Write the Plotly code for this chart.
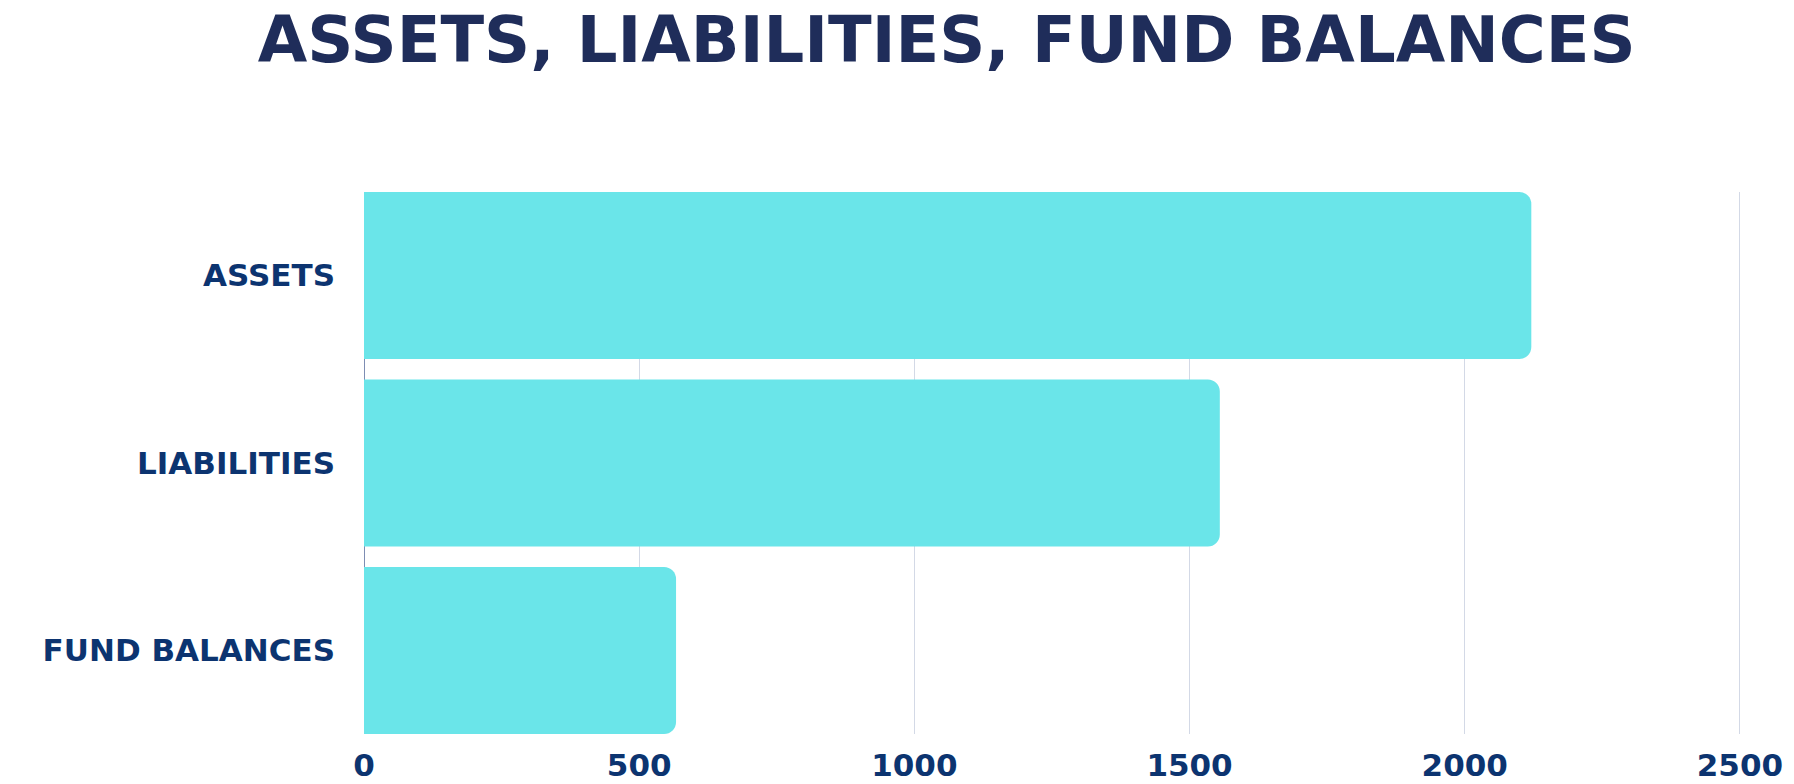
import plotly.graph_objects as go

categories = ["ASSETS", "LIABILITIES", "FUND BALANCES"]
values = [2121, 1555, 567]
x_ticks = [0, 500, 1000, 1500, 2000, 2500]
title_text = "ASSETS, LIABILITIES, FUND BALANCES"

W, H = 1794, 784
FONT = "DejaVu Sans"

fig = go.Figure(go.Bar(
    x=values, y=categories, orientation="h",
    marker=dict(color="#6ae5e9", line=dict(width=0), cornerradius=12),
    hoverinfo="x+y",
))

fig.update_layout(
    width=W, height=H,
    paper_bgcolor="white", plot_bgcolor="white",
    margin=dict(l=364, r=53, t=192, b=50, autoexpand=False),
    bargap=0.11,
    showlegend=False,
    title=dict(
        text=title_text, x=946.7 / W, xanchor="center", xref="container",
        y=1 - 40 / H, yanchor="middle", yref="container",
        font=dict(family=FONT, size=64, color="#1f2d5a", weight="bold"),
    ),
)
fig.update_xaxes(
    range=[0, 2502], tickvals=x_ticks, ticktext=[str(v) for v in x_ticks],
    showgrid=True, gridcolor="#d3d9e6", gridwidth=1,
    zeroline=True, zerolinecolor="#7d8db3", zerolinewidth=1,
    showline=False, ticks="", ticklabelstandoff=10,
    tickfont=dict(family=FONT, size=31, color="#0c3470", weight="bold"),
)
fig.update_yaxes(
    categoryorder="array", categoryarray=categories,
    range=[2.445, -0.445], showgrid=False, zeroline=False, showline=False,
    ticks="", ticklabelstandoff=28,
    tickfont=dict(family=FONT, size=31, color="#0c3470", weight="bold"),
)

# remove the browser's default 8px body margin so the figure fills the window
fig.write_html(
    "out.html",
    config={"displayModeBar": False},
    post_script="document.body.style.margin='0';document.body.style.overflow='hidden';",
)
